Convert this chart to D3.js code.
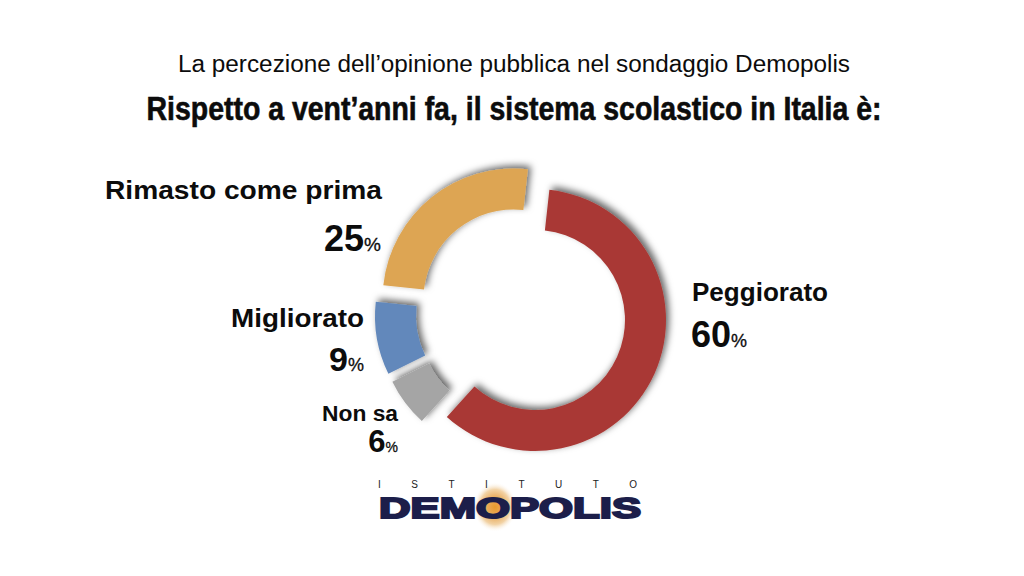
<!DOCTYPE html>
<html>
<head>
<meta charset="utf-8">
<script src="https://cdn.jsdelivr.net/npm/d3@7"></script>
<style>
html, body { margin: 0; padding: 0; background: #fff; }
text { font-family: "Liberation Sans", sans-serif; fill: #0c0c0c; }
</style>
</head>
<body>
<svg id="chart" width="1024" height="576"></svg>
<script>
var categories = ["Peggiorato", "Non sa", "Migliorato", "Rimasto come prima"];
var values = [60, 6, 9, 25];
var colors = ["#a93935", "#a5a5a5", "#6288bb", "#dda553"];

// each slice is pulled out of the ring by a different amount
var sliceCenters = [[535, 320], [510, 324], [506, 316], [513.5, 299.5]];
var labelLayout = [
    {x: 692, y: 301, size: 25, len: 136, numX: 691, numY: 347, numSize: 36, pctSize: 18},
    {x: 322, y: 421, size: 22, len: 76, numX: 398, numY: 452, numSize: 31, pctSize: 14},
    {x: 231, y: 327, size: 26, len: 133, numX: 364, numY: 371, numSize: 34, pctSize: 18},
    {x: 105, y: 199, size: 26, len: 277, numX: 381, numY: 251, numSize: 36, pctSize: 19}
];

var svg = d3.select("#chart");
var defs = svg.append("defs");

var shadow = defs.append("filter").attr("id", "shadow")
    .attr("x", "-30%").attr("y", "-30%").attr("width", "160%").attr("height", "160%");
shadow.append("feDropShadow")
    .attr("dx", 3).attr("dy", -3).attr("stdDeviation", 3.5)
    .attr("flood-color", "#000").attr("flood-opacity", 0.6);

var glow = defs.append("radialGradient").attr("id", "glow");
glow.append("stop").attr("offset", "0%").attr("stop-color", "#e8992e");
glow.append("stop").attr("offset", "40%").attr("stop-color", "#e9ad60");
glow.append("stop").attr("offset", "70%").attr("stop-color", "#f2d3a6");
glow.append("stop").attr("offset", "100%").attr("stop-color", "#fff").attr("stop-opacity", 0);

svg.append("rect").attr("width", 1024).attr("height", 576).attr("fill", "#fff");

svg.append("text").attr("x", 514).attr("y", 72).attr("text-anchor", "middle")
    .attr("font-size", 23.5)
    .attr("textLength", 672).attr("lengthAdjust", "spacingAndGlyphs")
    .text("La percezione dell\u2019opinione pubblica nel sondaggio Demopolis");

svg.append("text").attr("x", 514).attr("y", 120).attr("text-anchor", "middle")
    .attr("font-size", 33).attr("font-weight", "bold")
    .style("stroke", "#0c0c0c").style("stroke-width", 0.6)
    .attr("textLength", 735).attr("lengthAdjust", "spacingAndGlyphs")
    .text("Rispetto a vent\u2019anni fa, il sistema scolastico in Italia \u00e8:");

// ring
var startAngle = 6.3 * Math.PI / 180;
var pie = d3.pie().sort(null)
    .startAngle(startAngle).endAngle(startAngle + 2 * Math.PI);
var arc = d3.arc().innerRadius(90).outerRadius(131);

svg.selectAll("path.slice")
    .data(pie(values))
    .enter().append("path")
    .attr("class", "slice")
    .attr("transform", function(d, i) { return "translate(" + sliceCenters[i] + ")"; })
    .attr("d", arc)
    .attr("fill", function(d, i) { return colors[i]; })
    .attr("filter", "url(#shadow)");

// labels
categories.forEach(function(name, i) {
    var l = labelLayout[i];
    svg.append("text").attr("x", l.x).attr("y", l.y)
        .attr("font-size", l.size).attr("font-weight", "bold")
        .attr("textLength", l.len).attr("lengthAdjust", "spacingAndGlyphs")
        .text(name);

    // the big number sits left of the ring for all but the first slice
    var num = svg.append("text").attr("x", l.numX).attr("y", l.numY)
        .attr("text-anchor", i === 0 ? "start" : "end");
    num.append("tspan").attr("font-size", l.numSize).attr("font-weight", "bold").text(values[i]);
    num.append("tspan").attr("font-size", l.pctSize).style("stroke", "#0c0c0c").style("stroke-width", 0.3).text("%");
});

// logo
svg.append("ellipse").attr("cx", 495).attr("cy", 507)
    .attr("rx", 22).attr("ry", 25).attr("fill", "url(#glow)");

svg.append("text").attr("x", 378).attr("y", 488)
    .attr("font-size", 10).style("fill", "#222")
    .attr("textLength", 259).attr("lengthAdjust", "spacing")
    .text("ISTITUTO");

svg.append("text").attr("x", 379).attr("y", 518)
    .attr("font-size", 29).attr("font-weight", "bold")
    .style("fill", "#1c1e4a").style("stroke", "#1c1e4a").style("stroke-width", 2)
    .attr("textLength", 262).attr("lengthAdjust", "spacingAndGlyphs")
    .text("DEMOPOLIS");
</script>
</body>
</html>
